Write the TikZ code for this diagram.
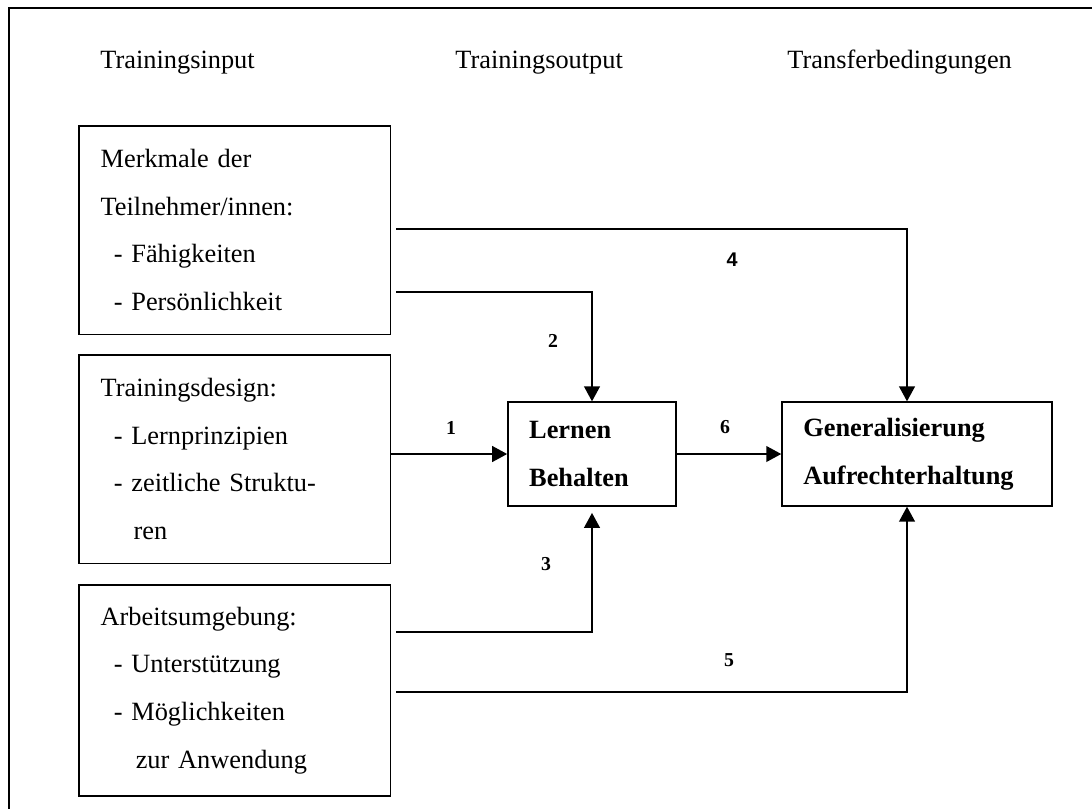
\documentclass[tikz,border=0pt]{standalone}
\usepackage{fontspec}
\setmainfont{Liberation Serif}
\newfontfamily\numfont{Liberation Sans}
\usetikzlibrary{arrows.meta,positioning}

\begin{document}
\begin{tikzpicture}[
      x=0.016cm, y=-0.016cm,
      font=\fontsize{12}{21.7}\selectfont,
      frame/.style={line width=1.1pt},
      head/.style={anchor=base west, inner sep=0pt},
      inbox/.style={draw, line width=0.7pt, anchor=north west, align=left, inner xsep=0.35cm, inner ysep=0pt, text width=4.29cm, minimum width=4.99cm},
      outbox/.style={draw, line width=0.7pt, align=left, font=\fontsize{12}{22}\selectfont\bfseries, inner xsep=0.34cm, inner ysep=0pt, minimum height=1.66cm},
      num/.style={font=\fontsize{9}{9}\selectfont\bfseries},
      arrow/.style={-{Triangle[length=0.24cm, width=0.25cm]}, line width=1pt},
      feed/.style={arrow, shorten <=0.08cm}
    ]
    \useasboundingbox (0,0) rectangle (1092,808);
    \draw[frame] (9,8) rectangle (1120,840);

    % Spaltenköpfe
    \node[head] (hin)  at (100,68) {Trainingsinput};
    \node[head] (hout) at (455,68) {Trainingsoutput};
    \node[head] (htr)  at (787,68) {Transferbedingungen};

    % Trainingsinput
    \node[inbox, minimum height=3.34cm] (merk) at (78,125)
      {Merkmale der\\Teilnehmer/innen:\\\hspace*{6pt}- Fähigkeiten\\\hspace*{6pt}- Persönlichkeit};
    \node[inbox, minimum height=3.34cm] (design) at (78,354)
      {Trainingsdesign:\\\hspace*{6pt}- Lernprinzipien\\\hspace*{6pt}- zeitliche Struktu-\\\hspace*{15pt}ren};
    \node[inbox, minimum height=3.38cm] (arb) at (78,584)
      {Arbeitsumgebung:\\\hspace*{6pt}- Unterstützung\\\hspace*{6pt}- Möglichkeiten\\\hspace*{16pt}zur Anwendung};

    % Output und Transfer
    \node[outbox, text width=2.01cm] (lern) at (592,454) {Lernen\\Behalten};
    \node[outbox, text width=3.64cm] (gen)  at (917,454) {Generalisierung\\Aufrechterhaltung};

    \draw[arrow] (design.east |- lern.west) -- (lern.west);
    \draw[arrow] (lern) -- (gen);
    \draw[feed] (merk.east |- 0,292) -| (lern.north);
    \draw[feed] (merk.east |- 0,229) -| ([xshift=-0.16cm]gen.north);
    \draw[feed, shorten >=0.1cm] (arb.east |- 0,632) -| (lern.south);
    \draw[feed] (arb.east |- 0,692) -| ([xshift=-0.16cm]gen.south);

    % Nummern
    \node[num] (n1) at (451,428) {1};
    \node[num] (n2) at (553,341) {2};
    \node[num] (n3) at (546,564) {3};
    \node[num, font=\fontsize{9}{9}\selectfont\bfseries\numfont] (n4) at (732,260) {4};
    \node[num] (n5) at (729,660) {5};
    \node[num] (n6) at (725,427) {6};
  \end{tikzpicture}
\end{document}
